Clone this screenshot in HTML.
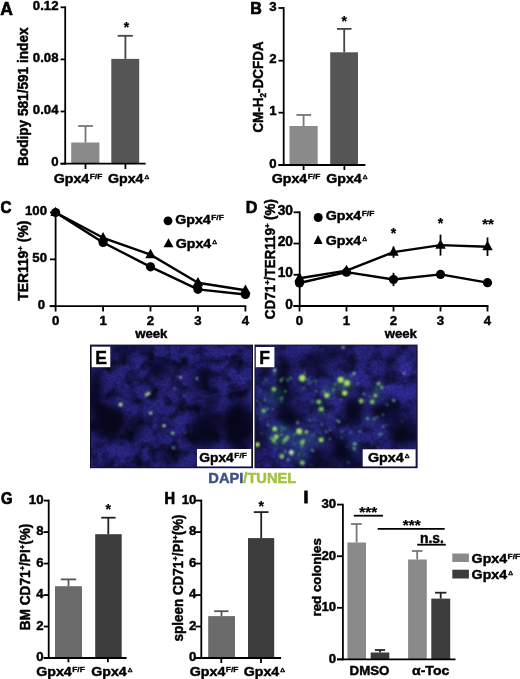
<!DOCTYPE html><html><head><meta charset="utf-8"><style>html,body{margin:0;padding:0;background:#fff;overflow:hidden;width:520px;height:679px;}svg{display:block;}text{stroke:#000;stroke-width:0.45px;stroke-linejoin:round;}</style></head><body>
<svg width="520" height="679" viewBox="0 0 520 679" font-family="'Liberation Sans', Arial, Helvetica, sans-serif">
<rect x="0.00" y="0.00" width="520.00" height="679.00" fill="#fff"/>
<text x="0.20" y="14.60" font-size="17.5" text-anchor="start" fill="#000" font-weight="bold" style="stroke-width:0.7px">A</text>
<rect x="71.20" y="142.50" width="28.20" height="21.20" fill="#8a8a8a"/>
<rect x="111.30" y="58.90" width="27.90" height="104.80" fill="#555"/>
<line x1="85.50" y1="142.50" x2="85.50" y2="126.00" stroke="#777" stroke-width="1.8"/>
<line x1="78.20" y1="126.00" x2="92.90" y2="126.00" stroke="#777" stroke-width="1.8"/>
<line x1="125.40" y1="58.90" x2="125.40" y2="35.80" stroke="#444" stroke-width="1.8"/>
<line x1="117.70" y1="35.80" x2="132.80" y2="35.80" stroke="#444" stroke-width="1.8"/>
<text x="126.50" y="32.48" font-size="14" text-anchor="middle" fill="#000" font-weight="bold" style="stroke-width:0.25px">*</text>
<line x1="65.20" y1="6.40" x2="65.20" y2="164.60" stroke="#000" stroke-width="1.8"/>
<line x1="60.60" y1="7.30" x2="65.20" y2="7.30" stroke="#000" stroke-width="1.8"/>
<text x="58.50" y="10.00" font-size="13.2" text-anchor="end" fill="#000" font-weight="bold">0.12</text>
<line x1="60.60" y1="59.40" x2="65.20" y2="59.40" stroke="#000" stroke-width="1.8"/>
<text x="58.50" y="62.10" font-size="13.2" text-anchor="end" fill="#000" font-weight="bold">0.08</text>
<line x1="60.60" y1="111.50" x2="65.20" y2="111.50" stroke="#000" stroke-width="1.8"/>
<text x="58.50" y="114.20" font-size="13.2" text-anchor="end" fill="#000" font-weight="bold">0.04</text>
<line x1="60.60" y1="163.70" x2="65.20" y2="163.70" stroke="#000" stroke-width="1.8"/>
<text x="58.50" y="166.40" font-size="13.2" text-anchor="end" fill="#000" font-weight="bold">0</text>
<line x1="60.60" y1="163.70" x2="145.60" y2="163.70" stroke="#000" stroke-width="1.8"/>
<line x1="85.50" y1="163.70" x2="85.50" y2="169.00" stroke="#000" stroke-width="1.8"/>
<line x1="125.40" y1="163.70" x2="125.40" y2="169.00" stroke="#000" stroke-width="1.8"/>
<text x="53.70" y="182.80" font-size="13.6" font-weight="bold" textLength="35.5" lengthAdjust="spacingAndGlyphs">Gpx4</text>
<text x="89.70" y="178.80" font-size="6.8" font-weight="bold" textLength="12.6" lengthAdjust="spacingAndGlyphs" style="stroke-width:0.3px">F/F</text>
<text x="108.00" y="182.80" font-size="13.6" font-weight="bold" textLength="35.5" lengthAdjust="spacingAndGlyphs">Gpx4</text>
<text x="144.60" y="178.80" font-size="5.2" font-weight="normal" textLength="4.7" lengthAdjust="spacingAndGlyphs" style="stroke-width:0.35px">&#916;</text>
<text x="28.20" y="166.00" font-size="14" text-anchor="start" fill="#000" font-weight="bold" transform="rotate(-90 28.20 166.00)" textLength="138.6" lengthAdjust="spacingAndGlyphs">Bodipy 581/591 index</text>
<text x="250.20" y="14.40" font-size="17.3" text-anchor="start" fill="#000" font-weight="bold" textLength="11.6" lengthAdjust="spacingAndGlyphs" style="stroke-width:0.7px">B</text>
<rect x="289.50" y="126.00" width="28.20" height="39.00" fill="#8a8a8a"/>
<rect x="330.20" y="52.30" width="27.80" height="112.70" fill="#555"/>
<line x1="303.60" y1="126.00" x2="303.60" y2="115.00" stroke="#777" stroke-width="1.8"/>
<line x1="296.40" y1="115.00" x2="311.10" y2="115.00" stroke="#777" stroke-width="1.8"/>
<line x1="344.20" y1="52.30" x2="344.20" y2="28.90" stroke="#444" stroke-width="1.8"/>
<line x1="337.00" y1="28.90" x2="351.50" y2="28.90" stroke="#444" stroke-width="1.8"/>
<text x="344.20" y="25.88" font-size="14" text-anchor="middle" fill="#000" font-weight="bold" style="stroke-width:0.25px">*</text>
<line x1="283.70" y1="7.10" x2="283.70" y2="165.90" stroke="#000" stroke-width="1.8"/>
<line x1="278.50" y1="8.00" x2="283.70" y2="8.00" stroke="#000" stroke-width="1.8"/>
<text x="276.50" y="10.70" font-size="13.2" text-anchor="end" fill="#000" font-weight="bold">3</text>
<line x1="278.50" y1="60.70" x2="283.70" y2="60.70" stroke="#000" stroke-width="1.8"/>
<text x="276.50" y="63.40" font-size="13.2" text-anchor="end" fill="#000" font-weight="bold">2</text>
<line x1="278.50" y1="112.70" x2="283.70" y2="112.70" stroke="#000" stroke-width="1.8"/>
<text x="276.50" y="115.40" font-size="13.2" text-anchor="end" fill="#000" font-weight="bold">1</text>
<line x1="278.50" y1="165.00" x2="283.70" y2="165.00" stroke="#000" stroke-width="1.8"/>
<text x="276.50" y="167.70" font-size="13.2" text-anchor="end" fill="#000" font-weight="bold">0</text>
<line x1="278.50" y1="165.00" x2="365.40" y2="165.00" stroke="#000" stroke-width="1.8"/>
<line x1="303.60" y1="165.00" x2="303.60" y2="170.00" stroke="#000" stroke-width="1.8"/>
<line x1="344.40" y1="165.00" x2="344.40" y2="170.00" stroke="#000" stroke-width="1.8"/>
<text x="271.70" y="182.80" font-size="13.6" font-weight="bold" textLength="35.5" lengthAdjust="spacingAndGlyphs">Gpx4</text>
<text x="307.70" y="178.80" font-size="6.8" font-weight="bold" textLength="12.6" lengthAdjust="spacingAndGlyphs" style="stroke-width:0.3px">F/F</text>
<text x="326.20" y="182.80" font-size="13.6" font-weight="bold" textLength="35.5" lengthAdjust="spacingAndGlyphs">Gpx4</text>
<text x="362.80" y="178.80" font-size="5.2" font-weight="normal" textLength="4.7" lengthAdjust="spacingAndGlyphs" style="stroke-width:0.35px">&#916;</text>
<text x="262.8" y="132.6" font-size="14" font-weight="bold" transform="rotate(-90 262.8 132.6)" textLength="91.2" lengthAdjust="spacingAndGlyphs">CM-H<tspan font-size="8.5" dy="3">2</tspan><tspan dy="-3">-DCFDA</tspan></text>
<text x="0.60" y="213.00" font-size="17.3" text-anchor="start" fill="#000" font-weight="bold" textLength="11.0" lengthAdjust="spacingAndGlyphs" style="stroke-width:0.7px">C</text>
<line x1="55.60" y1="211.60" x2="55.60" y2="307.10" stroke="#000" stroke-width="1.8"/>
<line x1="50.00" y1="212.50" x2="55.60" y2="212.50" stroke="#000" stroke-width="1.8"/>
<text x="47.00" y="215.20" font-size="13.2" text-anchor="end" fill="#000" font-weight="bold">100</text>
<line x1="50.00" y1="259.35" x2="55.60" y2="259.35" stroke="#000" stroke-width="1.8"/>
<text x="47.00" y="262.05" font-size="13.2" text-anchor="end" fill="#000" font-weight="bold">50</text>
<line x1="50.00" y1="306.20" x2="55.60" y2="306.20" stroke="#000" stroke-width="1.8"/>
<text x="45.20" y="308.90" font-size="13.2" text-anchor="end" fill="#000" font-weight="bold">0</text>
<line x1="49.60" y1="306.20" x2="246.30" y2="306.20" stroke="#000" stroke-width="1.8"/>
<line x1="55.60" y1="306.20" x2="55.60" y2="311.50" stroke="#000" stroke-width="1.8"/>
<text x="55.60" y="325.00" font-size="13.2" text-anchor="middle" fill="#000" font-weight="bold">0</text>
<line x1="103.05" y1="306.20" x2="103.05" y2="311.50" stroke="#000" stroke-width="1.8"/>
<text x="103.05" y="325.00" font-size="13.2" text-anchor="middle" fill="#000" font-weight="bold">1</text>
<line x1="150.50" y1="306.20" x2="150.50" y2="311.50" stroke="#000" stroke-width="1.8"/>
<text x="150.50" y="325.00" font-size="13.2" text-anchor="middle" fill="#000" font-weight="bold">2</text>
<line x1="197.95" y1="306.20" x2="197.95" y2="311.50" stroke="#000" stroke-width="1.8"/>
<text x="197.95" y="325.00" font-size="13.2" text-anchor="middle" fill="#000" font-weight="bold">3</text>
<line x1="245.40" y1="306.20" x2="245.40" y2="311.50" stroke="#000" stroke-width="1.8"/>
<text x="245.40" y="325.00" font-size="13.2" text-anchor="middle" fill="#000" font-weight="bold">4</text>
<text x="151.30" y="338.40" font-size="13.2" text-anchor="middle" fill="#000" font-weight="bold">week</text>
<text x="27.80" y="300.80" font-size="14" text-anchor="start" fill="#000" font-weight="bold" transform="rotate(-90 27.80 300.80)" textLength="80.2" lengthAdjust="spacingAndGlyphs">TER119<tspan font-size="8" dy="-5">+</tspan><tspan dy="5"> (%)</tspan></text>
<polyline points="55.60,212.50 103.05,237.80 150.50,254.66 197.95,282.77 245.40,290.27" fill="none" stroke="#000" stroke-width="2.4" stroke-linejoin="round"/>
<polyline points="55.60,212.50 103.05,242.48 150.50,266.85 197.95,289.33 245.40,294.49" fill="none" stroke="#000" stroke-width="2.4" stroke-linejoin="round"/>
<line x1="103.05" y1="238.74" x2="103.05" y2="246.23" stroke="#000" stroke-width="1.8"/>
<line x1="150.50" y1="264.03" x2="150.50" y2="269.66" stroke="#000" stroke-width="1.8"/>
<line x1="197.95" y1="287.46" x2="197.95" y2="291.21" stroke="#000" stroke-width="1.8"/>
<line x1="245.40" y1="292.61" x2="245.40" y2="296.36" stroke="#000" stroke-width="1.8"/>
<line x1="103.05" y1="234.99" x2="103.05" y2="240.61" stroke="#000" stroke-width="1.8"/>
<line x1="150.50" y1="252.79" x2="150.50" y2="256.54" stroke="#000" stroke-width="1.8"/>
<line x1="197.95" y1="279.96" x2="197.95" y2="285.59" stroke="#000" stroke-width="1.8"/>
<line x1="245.40" y1="288.40" x2="245.40" y2="292.14" stroke="#000" stroke-width="1.8"/>
<polygon points="55.60,206.64 60.85,216.09 50.35,216.09" fill="#000"/>
<polygon points="103.05,231.94 108.30,241.39 97.80,241.39" fill="#000"/>
<polygon points="150.50,248.81 155.75,258.26 145.25,258.26" fill="#000"/>
<polygon points="197.95,276.92 203.20,286.37 192.70,286.37" fill="#000"/>
<polygon points="245.40,284.41 250.65,293.86 240.15,293.86" fill="#000"/>
<circle cx="55.60" cy="212.50" r="4.6" fill="#000"/>
<circle cx="103.05" cy="242.48" r="4.6" fill="#000"/>
<circle cx="150.50" cy="266.85" r="4.6" fill="#000"/>
<circle cx="197.95" cy="289.33" r="4.6" fill="#000"/>
<circle cx="245.40" cy="294.49" r="4.6" fill="#000"/>
<circle cx="168.00" cy="220.80" r="4.4" fill="#000"/>
<text x="175.20" y="223.90" font-size="13.6" font-weight="bold" textLength="35.5" lengthAdjust="spacingAndGlyphs">Gpx4</text>
<text x="211.20" y="219.90" font-size="6.8" font-weight="bold" textLength="12.6" lengthAdjust="spacingAndGlyphs" style="stroke-width:0.3px">F/F</text>
<polygon points="168.5,238.3 173.5,247.2 163.5,247.2" fill="#000"/>
<text x="175.70" y="248.40" font-size="13.6" font-weight="bold" textLength="35.5" lengthAdjust="spacingAndGlyphs">Gpx4</text>
<text x="212.30" y="244.40" font-size="5.2" font-weight="normal" textLength="4.7" lengthAdjust="spacingAndGlyphs" style="stroke-width:0.35px">&#916;</text>
<text x="245.70" y="213.20" font-size="17.3" text-anchor="start" fill="#000" font-weight="bold" textLength="11.6" lengthAdjust="spacingAndGlyphs" style="stroke-width:0.7px">D</text>
<line x1="299.70" y1="211.40" x2="299.70" y2="306.90" stroke="#000" stroke-width="1.8"/>
<line x1="293.50" y1="212.30" x2="299.70" y2="212.30" stroke="#000" stroke-width="1.8"/>
<text x="293.00" y="215.00" font-size="13.8" text-anchor="end" fill="#000" font-weight="bold">30</text>
<line x1="293.50" y1="243.53" x2="299.70" y2="243.53" stroke="#000" stroke-width="1.8"/>
<text x="293.00" y="246.23" font-size="13.8" text-anchor="end" fill="#000" font-weight="bold">20</text>
<line x1="293.50" y1="274.77" x2="299.70" y2="274.77" stroke="#000" stroke-width="1.8"/>
<text x="293.00" y="277.47" font-size="13.8" text-anchor="end" fill="#000" font-weight="bold">10</text>
<line x1="293.50" y1="306.00" x2="299.70" y2="306.00" stroke="#000" stroke-width="1.8"/>
<text x="293.00" y="308.70" font-size="13.8" text-anchor="end" fill="#000" font-weight="bold">0</text>
<line x1="293.50" y1="306.00" x2="488.40" y2="306.00" stroke="#000" stroke-width="1.8"/>
<line x1="299.50" y1="306.00" x2="299.50" y2="311.50" stroke="#000" stroke-width="1.8"/>
<text x="299.50" y="325.00" font-size="13.2" text-anchor="middle" fill="#000" font-weight="bold">0</text>
<line x1="346.50" y1="306.00" x2="346.50" y2="311.50" stroke="#000" stroke-width="1.8"/>
<text x="346.50" y="325.00" font-size="13.2" text-anchor="middle" fill="#000" font-weight="bold">1</text>
<line x1="393.50" y1="306.00" x2="393.50" y2="311.50" stroke="#000" stroke-width="1.8"/>
<text x="393.50" y="325.00" font-size="13.2" text-anchor="middle" fill="#000" font-weight="bold">2</text>
<line x1="440.50" y1="306.00" x2="440.50" y2="311.50" stroke="#000" stroke-width="1.8"/>
<text x="440.50" y="325.00" font-size="13.2" text-anchor="middle" fill="#000" font-weight="bold">3</text>
<line x1="487.50" y1="306.00" x2="487.50" y2="311.50" stroke="#000" stroke-width="1.8"/>
<text x="487.50" y="325.00" font-size="13.2" text-anchor="middle" fill="#000" font-weight="bold">4</text>
<text x="400.80" y="338.00" font-size="13.2" text-anchor="middle" fill="#000" font-weight="bold">week</text>
<text x="274.8" y="319.2" font-size="14" font-weight="bold" transform="rotate(-90 274.8 319.2)" textLength="120.2" lengthAdjust="spacingAndGlyphs">CD71<tspan font-size="8" dy="-5">+</tspan><tspan dy="5">/TER119</tspan><tspan font-size="8" dy="-5">+</tspan><tspan dy="5"> (%)</tspan></text>
<polyline points="299.50,278.22 346.50,270.58 393.50,252.14 440.50,245.14 487.50,246.73" fill="none" stroke="#000" stroke-width="2.4" stroke-linejoin="round"/>
<polyline points="299.50,282.99 346.50,272.17 393.50,279.49 440.50,274.40 487.50,282.67" fill="none" stroke="#000" stroke-width="2.4" stroke-linejoin="round"/>
<line x1="346.50" y1="267.40" x2="346.50" y2="273.76" stroke="#000" stroke-width="1.8"/>
<line x1="393.50" y1="246.42" x2="393.50" y2="257.86" stroke="#000" stroke-width="1.8"/>
<line x1="440.50" y1="234.65" x2="440.50" y2="255.64" stroke="#000" stroke-width="1.8"/>
<line x1="487.50" y1="237.51" x2="487.50" y2="255.96" stroke="#000" stroke-width="1.8"/>
<line x1="346.50" y1="268.99" x2="346.50" y2="275.35" stroke="#000" stroke-width="1.8"/>
<line x1="393.50" y1="272.81" x2="393.50" y2="286.17" stroke="#000" stroke-width="1.8"/>
<polygon points="299.50,272.36 304.75,281.81 294.25,281.81" fill="#000"/>
<polygon points="346.50,264.73 351.75,274.18 341.25,274.18" fill="#000"/>
<polygon points="393.50,246.28 398.75,255.73 388.25,255.73" fill="#000"/>
<polygon points="440.50,239.28 445.75,248.74 435.25,248.74" fill="#000"/>
<polygon points="487.50,240.87 492.75,250.32 482.25,250.32" fill="#000"/>
<circle cx="299.50" cy="282.99" r="4.6" fill="#000"/>
<circle cx="346.50" cy="272.17" r="4.6" fill="#000"/>
<circle cx="393.50" cy="279.49" r="4.6" fill="#000"/>
<circle cx="440.50" cy="274.40" r="4.6" fill="#000"/>
<circle cx="487.50" cy="282.67" r="4.6" fill="#000"/>
<text x="393.50" y="238.08" font-size="14" text-anchor="middle" fill="#000" font-weight="bold" style="stroke-width:0.25px">*</text>
<text x="440.50" y="227.58" font-size="14" text-anchor="middle" fill="#000" font-weight="bold" style="stroke-width:0.25px">*</text>
<text x="482.30" y="229.38" font-size="14" text-anchor="start" fill="#000" font-weight="bold" textLength="11.6" lengthAdjust="spacingAndGlyphs" style="stroke-width:0.25px">**</text>
<circle cx="318.20" cy="217.50" r="4.5" fill="#000"/>
<text x="325.70" y="219.80" font-size="13.6" font-weight="bold" textLength="35.5" lengthAdjust="spacingAndGlyphs">Gpx4</text>
<text x="361.70" y="215.80" font-size="6.8" font-weight="bold" textLength="12.6" lengthAdjust="spacingAndGlyphs" style="stroke-width:0.3px">F/F</text>
<polygon points="318.1,235 322.6,243.9 313.6,243.9" fill="#000"/>
<text x="325.70" y="244.80" font-size="13.6" font-weight="bold" textLength="35.5" lengthAdjust="spacingAndGlyphs">Gpx4</text>
<text x="362.30" y="240.80" font-size="5.2" font-weight="normal" textLength="4.7" lengthAdjust="spacingAndGlyphs" style="stroke-width:0.35px">&#916;</text>
<defs>
<filter id="blur6" x="-50%" y="-50%" width="200%" height="200%" color-interpolation-filters="sRGB"><feGaussianBlur stdDeviation="6"/></filter>
<filter id="blur3" x="-50%" y="-50%" width="200%" height="200%"><feGaussianBlur stdDeviation="3"/></filter>
<filter id="blur5" x="-50%" y="-50%" width="200%" height="200%" color-interpolation-filters="sRGB"><feGaussianBlur stdDeviation="4.5"/></filter>
<filter id="blur1" x="-100%" y="-100%" width="300%" height="300%"><feGaussianBlur stdDeviation="0.8"/></filter>
<filter id="noise" x="0" y="0" width="100%" height="100%" color-interpolation-filters="sRGB">
<feTurbulence type="fractalNoise" baseFrequency="0.07" numOctaves="4" seed="11" result="n"/>
<feColorMatrix type="matrix" values="0 0 0 0 0.03  0 0 0 0 0.03  0 0 0 0 0.09  3.0 0 0 0 -1.25" in="n"/>
</filter>
<filter id="grain" x="0" y="0" width="100%" height="100%" color-interpolation-filters="sRGB">
<feTurbulence type="fractalNoise" baseFrequency="0.45" numOctaves="1" seed="5" result="n"/>
<feColorMatrix type="matrix" values="0 0 0 0 0.04  0 0 0 0 0.04  0 0 0 0 0.16  2.0 0 0 0 -0.7" in="n"/>
</filter>
<clipPath id="clipE"><rect x="91" y="345.6" width="161" height="121.6"/></clipPath>
<clipPath id="clipF"><rect x="255.5" y="345.6" width="161" height="121.6"/></clipPath>
</defs>
<rect x="90.00" y="344.60" width="163.00" height="123.60" fill="#0c0b1e"/>
<g clip-path="url(#clipE)">
<rect x="90.00" y="344.60" width="163.00" height="123.60" fill="#29267f"/>
<g filter="url(#blur3)">
<ellipse cx="139" cy="364" rx="10" ry="9" fill="#332e96" opacity="0.7"/>
<ellipse cx="234" cy="381" rx="14" ry="12" fill="#332e96" opacity="0.6"/>
<ellipse cx="215" cy="358" rx="15" ry="10" fill="#332e96" opacity="0.5"/>
<ellipse cx="115" cy="456" rx="15" ry="10" fill="#332e96" opacity="0.5"/>
<ellipse cx="150" cy="448" rx="12" ry="10" fill="#332e96" opacity="0.4"/>
<ellipse cx="220" cy="426" rx="8" ry="8" fill="#332e96" opacity="0.5"/>
<ellipse cx="180" cy="418" rx="10" ry="10" fill="#332e96" opacity="0.4"/>
</g><g filter="url(#blur5)">
<ellipse cx="159" cy="369" rx="8.7" ry="8.7" fill="#07061a" opacity="0.88"/>
<ellipse cx="96" cy="392" rx="6.5" ry="25.2" fill="#07061a" opacity="0.88"/>
<ellipse cx="108" cy="422" rx="17.5" ry="17.5" fill="#07061a" opacity="0.94"/>
<ellipse cx="134" cy="430" rx="6.5" ry="10.9" fill="#07061a" opacity="0.77"/>
<ellipse cx="202" cy="380" rx="9.8" ry="14.2" fill="#07061a" opacity="0.66"/>
<ellipse cx="205" cy="430" rx="14.2" ry="18.6" fill="#07061a" opacity="0.88"/>
<ellipse cx="238" cy="425" rx="16.4" ry="23.0" fill="#07061a" opacity="0.94"/>
<ellipse cx="168" cy="456" rx="9.8" ry="9.8" fill="#07061a" opacity="0.66"/>
<ellipse cx="210" cy="405" rx="7.6" ry="7.6" fill="#07061a" opacity="0.66"/>
<ellipse cx="125" cy="350" rx="17.5" ry="6.5" fill="#07061a" opacity="0.44"/>
</g>
<rect x="90" y="344.6" width="163" height="123.59999999999997" filter="url(#noise)" opacity="0.85"/>
<rect x="90" y="344.6" width="163" height="123.59999999999997" filter="url(#grain)" opacity="0.4"/>
<g filter="url(#blur1)">
<circle cx="120.6" cy="404.6" r="1.9" fill="#d0f080"/>
<circle cx="146.4" cy="394.7" r="1.6" fill="#a8e060"/>
<circle cx="148.8" cy="393.3" r="1.6" fill="#b8f070"/>
<circle cx="180.5" cy="377.3" r="1.3" fill="#90e0c0"/>
<circle cx="197" cy="378.4" r="1.2" fill="#a0b0d0"/>
<circle cx="174.2" cy="388.8" r="1.1" fill="#8090b0"/>
<circle cx="184.4" cy="395.5" r="1.0" fill="#806090"/>
<circle cx="150.7" cy="413.1" r="1.5" fill="#c0f0a0"/>
<circle cx="164.1" cy="425.7" r="1.6" fill="#b0f0a0"/>
<circle cx="172.6" cy="433" r="1.6" fill="#a0e8a0"/>
<circle cx="173.5" cy="447.7" r="1.3" fill="#70c0c0"/>
<circle cx="185.4" cy="432.4" r="1.0" fill="#806080"/>
</g>
</g>
<rect x="254.50" y="344.60" width="163.10" height="123.60" fill="#0c0b1e"/>
<g clip-path="url(#clipF)">
<rect x="254.50" y="344.60" width="163.10" height="123.60" fill="#29267f"/>
<g filter="url(#blur3)">
<ellipse cx="331" cy="402" rx="16" ry="16" fill="#332e96" opacity="0.55"/>
<ellipse cx="382" cy="390" rx="11" ry="10" fill="#332e96" opacity="0.6"/>
<ellipse cx="404" cy="373" rx="11" ry="12" fill="#332e96" opacity="0.6"/>
<ellipse cx="307" cy="352" rx="9" ry="9" fill="#332e96" opacity="0.5"/>
<ellipse cx="375" cy="436" rx="10" ry="10" fill="#332e96" opacity="0.5"/>
<ellipse cx="402" cy="385" rx="14" ry="28" fill="#3531a8" opacity="0.7"/>
<ellipse cx="330" cy="350" rx="30" ry="6" fill="#3531a8" opacity="0.5"/>
<ellipse cx="360" cy="378" rx="10" ry="8" fill="#3531a8" opacity="0.5"/>
</g><g filter="url(#blur5)">
<ellipse cx="283" cy="386" rx="6.5" ry="29.6" fill="#07061a" opacity="0.99"/>
<ellipse cx="290" cy="416" rx="10.9" ry="9.8" fill="#07061a" opacity="0.88"/>
<ellipse cx="316" cy="360" rx="12.0" ry="12.0" fill="#07061a" opacity="0.61"/>
<ellipse cx="353" cy="411" rx="9.8" ry="13.1" fill="#07061a" opacity="0.94"/>
<ellipse cx="341" cy="451" rx="9.8" ry="14.2" fill="#07061a" opacity="0.94"/>
<ellipse cx="387" cy="412" rx="14.2" ry="8.7" fill="#07061a" opacity="0.83"/>
<ellipse cx="403" cy="432" rx="14.2" ry="14.2" fill="#07061a" opacity="0.83"/>
<ellipse cx="258" cy="437" rx="6.5" ry="16.4" fill="#07061a" opacity="0.77"/>
<ellipse cx="318" cy="456" rx="9.8" ry="9.8" fill="#07061a" opacity="0.77"/>
<ellipse cx="336" cy="352" rx="9.8" ry="8.7" fill="#07061a" opacity="0.66"/>
<ellipse cx="365" cy="462" rx="14.2" ry="7.6" fill="#07061a" opacity="0.55"/>
</g>
<rect x="254.5" y="344.6" width="163.10000000000002" height="123.59999999999997" filter="url(#noise)" opacity="0.68"/>
<rect x="254.5" y="344.6" width="163.10000000000002" height="123.59999999999997" filter="url(#grain)" opacity="0.4"/>
<g filter="url(#blur3)">
<circle cx="275" cy="395" r="10" fill="#2f7a8c" opacity="0.27"/>
<circle cx="330" cy="390" r="9" fill="#2f7a8c" opacity="0.24"/>
<circle cx="280" cy="435" r="12" fill="#2f7a8c" opacity="0.3"/>
<circle cx="300" cy="440" r="10" fill="#2f7a8c" opacity="0.27"/>
<circle cx="315" cy="440" r="8" fill="#2f7a8c" opacity="0.24"/>
<circle cx="345" cy="385" r="9" fill="#4a9a70" opacity="0.27"/>
<circle cx="375" cy="395" r="8" fill="#2f7a8c" opacity="0.21"/>
<circle cx="300" cy="455" r="8" fill="#2f7a8c" opacity="0.21"/>
<circle cx="320" cy="410" r="6" fill="#2f7a8c" opacity="0.21"/>
<circle cx="370" cy="420" r="6" fill="#2f7a8c" opacity="0.18"/>
<circle cx="355" cy="445" r="6" fill="#2f7a8c" opacity="0.21"/>
<circle cx="263" cy="412" r="6" fill="#2f7a8c" opacity="0.21"/>
</g>
<g filter="url(#blur1)">
<circle cx="302.3" cy="378.1" r="3.23" fill="#a8e858"/>
<circle cx="274.7" cy="370.2" r="1.53" fill="#a0e0c0"/>
<circle cx="273.9" cy="389.2" r="2.21" fill="#80c858"/>
<circle cx="326.8" cy="395.2" r="2.55" fill="#a8e858"/>
<circle cx="318.9" cy="401.8" r="2.38" fill="#80c858"/>
<circle cx="340.7" cy="379.7" r="3.06" fill="#a8e858"/>
<circle cx="347" cy="382.9" r="2.8899999999999997" fill="#a8e858"/>
<circle cx="344.7" cy="393.1" r="2.72" fill="#a8e858"/>
<circle cx="354.1" cy="373.4" r="1.275" fill="#c8f0c0"/>
<circle cx="361.2" cy="401" r="2.38" fill="#80c858"/>
<circle cx="372.3" cy="401.8" r="2.38" fill="#80c858"/>
<circle cx="375.4" cy="395.5" r="1.9549999999999998" fill="#80c858"/>
<circle cx="378.6" cy="383.6" r="1.9549999999999998" fill="#80c858"/>
<circle cx="381.7" cy="387.3" r="1.615" fill="#80c858"/>
<circle cx="403.8" cy="373.4" r="1.02" fill="#c0c0e0"/>
<circle cx="343.1" cy="347.4" r="1.105" fill="#e0f0e0"/>
<circle cx="393.6" cy="400.2" r="1.53" fill="#70b080"/>
<circle cx="263.7" cy="410.7" r="2.04" fill="#80c858"/>
<circle cx="274.7" cy="428.9" r="2.38" fill="#a8e858"/>
<circle cx="276.3" cy="436.8" r="2.38" fill="#a8e858"/>
<circle cx="273.9" cy="440.7" r="1.9549999999999998" fill="#80c858"/>
<circle cx="285" cy="439.9" r="1.9549999999999998" fill="#80c858"/>
<circle cx="287.3" cy="437.3" r="1.7" fill="#80c858"/>
<circle cx="257.4" cy="444.6" r="2.38" fill="#a8e858"/>
<circle cx="299.2" cy="431.2" r="3.06" fill="#a8e858"/>
<circle cx="306.3" cy="432" r="1.7" fill="#a8e858"/>
<circle cx="302.3" cy="442.3" r="2.38" fill="#80c858"/>
<circle cx="291.3" cy="452.5" r="2.38" fill="#c0f0a0"/>
<circle cx="281.8" cy="456.5" r="2.38" fill="#80c858"/>
<circle cx="302.3" cy="462.8" r="2.38" fill="#80c858"/>
<circle cx="321.2" cy="439.9" r="2.38" fill="#a8e858"/>
<circle cx="321.2" cy="409.2" r="2.38" fill="#80c858"/>
<circle cx="297.6" cy="422.6" r="1.105" fill="#c8f0c0"/>
<circle cx="288.1" cy="459.6" r="1.275" fill="#70c0c0"/>
<circle cx="355" cy="443.9" r="1.36" fill="#80d0d0"/>
<circle cx="367.5" cy="418.6" r="1.275" fill="#70c0b0"/>
<circle cx="383.3" cy="426.5" r="1.02" fill="#80c0c0"/>
<circle cx="339" cy="421.8" r="1.275" fill="#70c0b0"/>
<circle cx="354.1" cy="448.6" r="1.36" fill="#80c080"/>
<circle cx="310" cy="420" r="1.02" fill="#60b0a0"/>
<circle cx="330" cy="430" r="0.935" fill="#60b0a0"/>
<circle cx="268" cy="425" r="1.02" fill="#60b0a0"/>
<circle cx="265" cy="400" r="1.105" fill="#70c0a0"/>
<circle cx="282" cy="398" r="1.105" fill="#70c0a0"/>
<circle cx="312" cy="450" r="1.105" fill="#70c090"/>
<circle cx="317.3" cy="410.1" r="0.69" fill="#3a8aa0"/>
<circle cx="285.3" cy="391.3" r="1.08" fill="#60b870"/>
<circle cx="304.0" cy="387.8" r="1.07" fill="#60b870"/>
<circle cx="272.4" cy="409.1" r="1.1" fill="#4aa0a0"/>
<circle cx="376.8" cy="390.0" r="0.77" fill="#60b870"/>
<circle cx="402.0" cy="421.2" r="0.65" fill="#60b870"/>
<circle cx="260.3" cy="418.8" r="0.71" fill="#5ab090"/>
<circle cx="321.6" cy="424.2" r="0.94" fill="#60b870"/>
<circle cx="381.2" cy="387.2" r="0.85" fill="#3a8aa0"/>
<circle cx="370.2" cy="397.0" r="0.76" fill="#60b870"/>
<circle cx="310.8" cy="382.3" r="0.91" fill="#60b870"/>
<circle cx="346.9" cy="446.3" r="0.64" fill="#5ab090"/>
<circle cx="315.6" cy="391.5" r="0.81" fill="#5ab090"/>
<circle cx="374.2" cy="419.0" r="1.14" fill="#5ab090"/>
<circle cx="281.5" cy="379.4" r="1.06" fill="#60b870"/>
<circle cx="268.0" cy="408.9" r="0.77" fill="#5ab090"/>
<circle cx="315.4" cy="381.3" r="1.04" fill="#60b870"/>
<circle cx="287.4" cy="438.8" r="1.07" fill="#5ab090"/>
<circle cx="311.7" cy="425.6" r="0.78" fill="#4aa0a0"/>
<circle cx="327.9" cy="393.9" r="0.83" fill="#60b870"/>
<circle cx="344.4" cy="386.0" r="0.87" fill="#4aa0a0"/>
<circle cx="281.8" cy="430.6" r="0.94" fill="#60b870"/>
<circle cx="299.4" cy="454.0" r="0.67" fill="#5ab090"/>
<circle cx="307.1" cy="379.7" r="0.96" fill="#5ab090"/>
<circle cx="314.2" cy="425.4" r="0.67" fill="#4aa0a0"/>
<circle cx="312.9" cy="451.2" r="0.89" fill="#5ab090"/>
<circle cx="312.3" cy="401.5" r="0.85" fill="#5ab090"/>
<circle cx="316.3" cy="391.2" r="0.9" fill="#5ab090"/>
<circle cx="308.7" cy="379.4" r="0.72" fill="#70c070"/>
<circle cx="315.9" cy="401.1" r="0.63" fill="#60b870"/>
<circle cx="312.7" cy="435.3" r="0.9" fill="#4aa0a0"/>
<circle cx="281.5" cy="401.3" r="0.78" fill="#60b870"/>
<circle cx="294.0" cy="444.1" r="0.92" fill="#3a8aa0"/>
<circle cx="360.1" cy="431.4" r="1.15" fill="#60b870"/>
<circle cx="311.4" cy="464.6" r="0.63" fill="#5ab090"/>
<circle cx="281.5" cy="427.1" r="1.12" fill="#4aa0a0"/>
<circle cx="377.3" cy="417.2" r="1.16" fill="#3a8aa0"/>
<circle cx="323.8" cy="392.7" r="0.61" fill="#5ab090"/>
<circle cx="387.2" cy="404.7" r="1.13" fill="#3a8aa0"/>
<circle cx="341.9" cy="431.5" r="1.0" fill="#5ab090"/>
<circle cx="284.8" cy="428.7" r="1.15" fill="#3a8aa0"/>
<circle cx="292.3" cy="455.3" r="0.67" fill="#70c070"/>
<circle cx="329.1" cy="416.8" r="0.62" fill="#5ab090"/>
<circle cx="275.2" cy="380.3" r="0.78" fill="#4aa0a0"/>
<circle cx="281.8" cy="435.0" r="0.87" fill="#70c070"/>
<circle cx="323.8" cy="391.3" r="1.06" fill="#5ab090"/>
<circle cx="303.7" cy="440.2" r="1.08" fill="#70c070"/>
<circle cx="270.4" cy="437.3" r="0.64" fill="#3a8aa0"/>
<circle cx="308.5" cy="384.0" r="0.85" fill="#3a8aa0"/>
<circle cx="330.1" cy="439.1" r="1.02" fill="#5ab090"/>
<circle cx="271.8" cy="438.3" r="1.18" fill="#70c070"/>
<circle cx="301.8" cy="377.2" r="0.67" fill="#60b870"/>
<circle cx="259.8" cy="391.1" r="0.92" fill="#3a8aa0"/>
<circle cx="321.5" cy="440.5" r="0.74" fill="#60b870"/>
<circle cx="357.6" cy="384.0" r="0.97" fill="#4aa0a0"/>
<circle cx="261.0" cy="433.2" r="0.78" fill="#70c070"/>
<circle cx="323.8" cy="414.3" r="0.84" fill="#3a8aa0"/>
<circle cx="376.1" cy="387.5" r="0.68" fill="#60b870"/>
<circle cx="263.4" cy="382.6" r="0.71" fill="#70c070"/>
<circle cx="285.2" cy="451.5" r="1.13" fill="#70c070"/>
<circle cx="256.7" cy="400.8" r="0.8" fill="#5ab090"/>
<circle cx="276.5" cy="444.0" r="0.96" fill="#4aa0a0"/>
<circle cx="337.1" cy="420.3" r="1.08" fill="#60b870"/>
<circle cx="280.5" cy="398.9" r="1.0" fill="#3a8aa0"/>
<circle cx="275.5" cy="369.0" r="0.7" fill="#4aa0a0"/>
<circle cx="283.3" cy="443.2" r="1.07" fill="#70c070"/>
<circle cx="348.3" cy="462.3" r="1.13" fill="#3a8aa0"/>
<circle cx="333.2" cy="390.5" r="0.82" fill="#60b870"/>
<circle cx="379.1" cy="435.0" r="1.14" fill="#3a8aa0"/>
<circle cx="276.2" cy="437.2" r="0.77" fill="#60b870"/>
<circle cx="294.2" cy="434.8" r="0.88" fill="#70c070"/>
<circle cx="314.6" cy="420.0" r="0.97" fill="#3a8aa0"/>
<circle cx="335.1" cy="384.4" r="0.96" fill="#60b870"/>
<circle cx="387.8" cy="387.8" r="0.73" fill="#3a8aa0"/>
<circle cx="302.2" cy="446.3" r="1.15" fill="#5ab090"/>
<circle cx="267.3" cy="408.5" r="0.84" fill="#5ab090"/>
<circle cx="260.2" cy="402.9" r="0.76" fill="#70c070"/>
<circle cx="321.4" cy="438.3" r="0.62" fill="#5ab090"/>
<circle cx="286.2" cy="441.1" r="0.97" fill="#60b870"/>
<circle cx="350.7" cy="432.6" r="1.17" fill="#3a8aa0"/>
<circle cx="382.8" cy="414.9" r="1.03" fill="#4aa0a0"/>
<circle cx="326.2" cy="431.8" r="1.11" fill="#5ab090"/>
<circle cx="281.3" cy="454.6" r="1.12" fill="#5ab090"/>
<circle cx="363.9" cy="394.1" r="1.12" fill="#60b870"/>
<circle cx="281.5" cy="440.5" r="0.77" fill="#4aa0a0"/>
<circle cx="377.7" cy="447.4" r="0.65" fill="#5ab090"/>
<circle cx="283.7" cy="377.9" r="0.74" fill="#5ab090"/>
<circle cx="287.8" cy="379.9" r="1.13" fill="#5ab090"/>
<circle cx="304.1" cy="454.7" r="0.8" fill="#3a8aa0"/>
<circle cx="351.0" cy="375.8" r="0.88" fill="#4aa0a0"/>
<circle cx="275.6" cy="448.9" r="0.96" fill="#3a8aa0"/>
<circle cx="304.7" cy="373.0" r="1.11" fill="#70c070"/>
<circle cx="341.7" cy="437.4" r="0.98" fill="#3a8aa0"/>
<circle cx="281.3" cy="434.9" r="1.14" fill="#5ab090"/>
<circle cx="266.4" cy="379.6" r="0.79" fill="#70c070"/>
<circle cx="298.4" cy="454.4" r="0.71" fill="#4aa0a0"/>
<circle cx="290.7" cy="378.1" r="1.03" fill="#70c070"/>
<circle cx="303.1" cy="380.9" r="1.15" fill="#70c070"/>
<circle cx="381.1" cy="433.9" r="1.1" fill="#70c070"/>
<circle cx="281.0" cy="380.7" r="1.17" fill="#70c070"/>
<circle cx="386.3" cy="424.8" r="0.73" fill="#5ab090"/>
<circle cx="333.5" cy="389.5" r="1.11" fill="#60b870"/>
<circle cx="353.1" cy="443.7" r="0.9" fill="#3a8aa0"/>
<circle cx="274.5" cy="374.1" r="0.94" fill="#60b870"/>
<circle cx="378.4" cy="382.9" r="0.79" fill="#3a8aa0"/>
<circle cx="340.7" cy="399.9" r="0.8" fill="#60b870"/>
<circle cx="319.6" cy="432.3" r="0.79" fill="#3a8aa0"/>
</g>
</g>
<rect x="91.70" y="346.70" width="18.60" height="20.50" fill="#fff"/>
<text x="95.20" y="363.80" font-size="17.5" text-anchor="start" fill="#000" font-weight="bold">E</text>
<rect x="255.80" y="347.00" width="18.60" height="20.20" fill="#fff"/>
<text x="259.30" y="363.80" font-size="17.5" text-anchor="start" fill="#000" font-weight="bold">F</text>
<rect x="197.00" y="449.00" width="54.20" height="17.40" fill="#fff"/>
<text x="199.20" y="461.80" font-size="13.6" font-weight="bold" textLength="34.6" lengthAdjust="spacingAndGlyphs">Gpx4</text>
<text x="234.30" y="457.80" font-size="6.8" font-weight="bold" textLength="12.6" lengthAdjust="spacingAndGlyphs" style="stroke-width:0.3px">F/F</text>
<rect x="362.70" y="449.30" width="52.90" height="17.10" fill="#fff"/>
<text x="367.90" y="462.30" font-size="13.6" font-weight="bold" textLength="35.8" lengthAdjust="spacingAndGlyphs">Gpx4</text>
<text x="404.80" y="458.30" font-size="5.2" font-weight="normal" textLength="4.7" lengthAdjust="spacingAndGlyphs" style="stroke-width:0.35px">&#916;</text>
<text x="208.3" y="483" font-size="14" font-weight="bold" textLength="88" lengthAdjust="spacingAndGlyphs"><tspan fill="#3d5285" stroke="#3d5285">DAPI</tspan><tspan fill="#a3c23e" stroke="#a3c23e">/TUNEL</tspan></text>
<text x="1.10" y="503.80" font-size="15.8" text-anchor="start" fill="#000" font-weight="bold" textLength="11.6" lengthAdjust="spacingAndGlyphs" style="stroke-width:0.7px">G</text>
<rect x="55.00" y="586.20" width="27.00" height="71.80" fill="#6b6b6b"/>
<rect x="95.20" y="534.20" width="26.50" height="123.80" fill="#3c3c3c"/>
<line x1="68.50" y1="586.20" x2="68.50" y2="579.40" stroke="#555" stroke-width="1.8"/>
<line x1="60.80" y1="579.40" x2="76.20" y2="579.40" stroke="#555" stroke-width="1.8"/>
<line x1="108.30" y1="534.20" x2="108.30" y2="517.70" stroke="#222" stroke-width="1.8"/>
<line x1="101.20" y1="517.70" x2="115.60" y2="517.70" stroke="#222" stroke-width="1.8"/>
<text x="108.30" y="514.38" font-size="14" text-anchor="middle" fill="#000" font-weight="bold" style="stroke-width:0.25px">*</text>
<line x1="48.70" y1="499.70" x2="48.70" y2="658.90" stroke="#000" stroke-width="1.8"/>
<line x1="43.70" y1="500.60" x2="48.70" y2="500.60" stroke="#000" stroke-width="1.8"/>
<text x="43.50" y="503.80" font-size="13.2" text-anchor="end" fill="#000" font-weight="bold">10</text>
<line x1="43.70" y1="532.08" x2="48.70" y2="532.08" stroke="#000" stroke-width="1.8"/>
<text x="43.50" y="535.28" font-size="13.2" text-anchor="end" fill="#000" font-weight="bold">8</text>
<line x1="43.70" y1="563.56" x2="48.70" y2="563.56" stroke="#000" stroke-width="1.8"/>
<text x="43.50" y="566.76" font-size="13.2" text-anchor="end" fill="#000" font-weight="bold">6</text>
<line x1="43.70" y1="595.04" x2="48.70" y2="595.04" stroke="#000" stroke-width="1.8"/>
<text x="43.50" y="598.24" font-size="13.2" text-anchor="end" fill="#000" font-weight="bold">4</text>
<line x1="43.70" y1="626.52" x2="48.70" y2="626.52" stroke="#000" stroke-width="1.8"/>
<text x="43.50" y="629.72" font-size="13.2" text-anchor="end" fill="#000" font-weight="bold">2</text>
<line x1="43.70" y1="658.00" x2="48.70" y2="658.00" stroke="#000" stroke-width="1.8"/>
<text x="43.50" y="661.20" font-size="13.2" text-anchor="end" fill="#000" font-weight="bold">0</text>
<line x1="43.70" y1="658.00" x2="126.60" y2="658.00" stroke="#000" stroke-width="1.8"/>
<line x1="68.40" y1="658.00" x2="68.40" y2="662.30" stroke="#000" stroke-width="1.8"/>
<line x1="107.90" y1="658.00" x2="107.90" y2="662.30" stroke="#000" stroke-width="1.8"/>
<text x="36.20" y="675.90" font-size="13.6" font-weight="bold" textLength="35.5" lengthAdjust="spacingAndGlyphs">Gpx4</text>
<text x="72.20" y="671.90" font-size="6.8" font-weight="bold" textLength="12.6" lengthAdjust="spacingAndGlyphs" style="stroke-width:0.3px">F/F</text>
<text x="91.20" y="675.90" font-size="13.6" font-weight="bold" textLength="35.5" lengthAdjust="spacingAndGlyphs">Gpx4</text>
<text x="127.80" y="671.90" font-size="5.2" font-weight="normal" textLength="4.7" lengthAdjust="spacingAndGlyphs" style="stroke-width:0.35px">&#916;</text>
<text x="30" y="630.2" font-size="14" font-weight="bold" transform="rotate(-90 30 630.2)" textLength="106.6" lengthAdjust="spacingAndGlyphs">BM CD71<tspan font-size="8" dy="-5">+</tspan><tspan dy="5">/PI</tspan><tspan font-size="8" dy="-5">+</tspan><tspan dy="5">(%)</tspan></text>
<text x="164.50" y="503.50" font-size="15.8" text-anchor="start" fill="#000" font-weight="bold" textLength="10.6" lengthAdjust="spacingAndGlyphs" style="stroke-width:0.7px">H</text>
<rect x="208.20" y="616.10" width="26.80" height="41.90" fill="#6b6b6b"/>
<rect x="248.00" y="538.10" width="26.20" height="119.90" fill="#3c3c3c"/>
<line x1="221.50" y1="616.10" x2="221.50" y2="611.20" stroke="#555" stroke-width="1.8"/>
<line x1="214.20" y1="611.20" x2="228.50" y2="611.20" stroke="#555" stroke-width="1.8"/>
<line x1="261.20" y1="538.10" x2="261.20" y2="512.10" stroke="#222" stroke-width="1.8"/>
<line x1="253.80" y1="512.10" x2="268.50" y2="512.10" stroke="#222" stroke-width="1.8"/>
<text x="261.20" y="511.28" font-size="14" text-anchor="middle" fill="#000" font-weight="bold" style="stroke-width:0.25px">*</text>
<line x1="201.30" y1="499.70" x2="201.30" y2="658.90" stroke="#000" stroke-width="1.8"/>
<line x1="195.30" y1="500.60" x2="201.30" y2="500.60" stroke="#000" stroke-width="1.8"/>
<text x="196.30" y="503.80" font-size="13.2" text-anchor="end" fill="#000" font-weight="bold">10</text>
<line x1="195.30" y1="532.08" x2="201.30" y2="532.08" stroke="#000" stroke-width="1.8"/>
<text x="196.30" y="535.28" font-size="13.2" text-anchor="end" fill="#000" font-weight="bold">8</text>
<line x1="195.30" y1="563.56" x2="201.30" y2="563.56" stroke="#000" stroke-width="1.8"/>
<text x="196.30" y="566.76" font-size="13.2" text-anchor="end" fill="#000" font-weight="bold">6</text>
<line x1="195.30" y1="595.04" x2="201.30" y2="595.04" stroke="#000" stroke-width="1.8"/>
<text x="196.30" y="598.24" font-size="13.2" text-anchor="end" fill="#000" font-weight="bold">4</text>
<line x1="195.30" y1="626.52" x2="201.30" y2="626.52" stroke="#000" stroke-width="1.8"/>
<text x="196.30" y="629.72" font-size="13.2" text-anchor="end" fill="#000" font-weight="bold">2</text>
<line x1="195.30" y1="658.00" x2="201.30" y2="658.00" stroke="#000" stroke-width="1.8"/>
<text x="196.30" y="661.20" font-size="13.2" text-anchor="end" fill="#000" font-weight="bold">0</text>
<line x1="195.30" y1="658.00" x2="281.10" y2="658.00" stroke="#000" stroke-width="1.8"/>
<line x1="221.30" y1="658.00" x2="221.30" y2="663.00" stroke="#000" stroke-width="1.8"/>
<line x1="261.00" y1="658.00" x2="261.00" y2="663.00" stroke="#000" stroke-width="1.8"/>
<text x="189.80" y="675.90" font-size="13.6" font-weight="bold" textLength="35.5" lengthAdjust="spacingAndGlyphs">Gpx4</text>
<text x="225.80" y="671.90" font-size="6.8" font-weight="bold" textLength="12.6" lengthAdjust="spacingAndGlyphs" style="stroke-width:0.3px">F/F</text>
<text x="243.70" y="675.90" font-size="13.6" font-weight="bold" textLength="35.5" lengthAdjust="spacingAndGlyphs">Gpx4</text>
<text x="280.30" y="671.90" font-size="5.2" font-weight="normal" textLength="4.7" lengthAdjust="spacingAndGlyphs" style="stroke-width:0.35px">&#916;</text>
<text x="183.3" y="641.4" font-size="14" font-weight="bold" transform="rotate(-90 183.3 641.4)" textLength="127" lengthAdjust="spacingAndGlyphs">spleen CD71<tspan font-size="8" dy="-5">+</tspan><tspan dy="5">/PI</tspan><tspan font-size="8" dy="-5">+</tspan><tspan dy="5">(%)</tspan></text>
<text x="303.80" y="503.20" font-size="16" text-anchor="start" fill="#000" font-weight="bold" style="stroke-width:1.2px">I</text>
<rect x="347.40" y="542.50" width="18.60" height="116.90" fill="#8a8a8a"/>
<rect x="370.70" y="652.50" width="18.60" height="6.90" fill="#3c3c3c"/>
<rect x="408.10" y="559.50" width="18.70" height="99.90" fill="#8a8a8a"/>
<rect x="431.30" y="598.60" width="18.90" height="60.80" fill="#3c3c3c"/>
<line x1="356.60" y1="542.50" x2="356.60" y2="524.00" stroke="#777" stroke-width="1.8"/>
<line x1="351.00" y1="524.00" x2="361.80" y2="524.00" stroke="#777" stroke-width="1.8"/>
<line x1="380.10" y1="652.50" x2="380.10" y2="650.00" stroke="#222" stroke-width="1.8"/>
<line x1="374.90" y1="650.00" x2="385.10" y2="650.00" stroke="#222" stroke-width="1.8"/>
<line x1="417.20" y1="559.50" x2="417.20" y2="551.00" stroke="#777" stroke-width="1.8"/>
<line x1="411.90" y1="551.00" x2="422.50" y2="551.00" stroke="#777" stroke-width="1.8"/>
<line x1="440.70" y1="598.60" x2="440.70" y2="592.70" stroke="#222" stroke-width="1.8"/>
<line x1="435.00" y1="592.70" x2="446.40" y2="592.70" stroke="#222" stroke-width="1.8"/>
<line x1="342.90" y1="503.70" x2="342.90" y2="660.30" stroke="#000" stroke-width="1.8"/>
<line x1="337.00" y1="504.60" x2="342.90" y2="504.60" stroke="#000" stroke-width="1.8"/>
<text x="336.20" y="508.00" font-size="13.2" text-anchor="end" fill="#000" font-weight="bold">30</text>
<line x1="337.00" y1="556.20" x2="342.90" y2="556.20" stroke="#000" stroke-width="1.8"/>
<text x="336.20" y="559.60" font-size="13.2" text-anchor="end" fill="#000" font-weight="bold">20</text>
<line x1="337.00" y1="607.80" x2="342.90" y2="607.80" stroke="#000" stroke-width="1.8"/>
<text x="336.20" y="611.20" font-size="13.2" text-anchor="end" fill="#000" font-weight="bold">10</text>
<line x1="337.00" y1="659.40" x2="342.90" y2="659.40" stroke="#000" stroke-width="1.8"/>
<text x="336.20" y="662.80" font-size="13.2" text-anchor="end" fill="#000" font-weight="bold">0</text>
<line x1="337.00" y1="659.40" x2="455.50" y2="659.40" stroke="#000" stroke-width="1.8"/>
<line x1="353.80" y1="515.70" x2="383.00" y2="515.70" stroke="#000" stroke-width="1.8"/>
<text x="359.30" y="516.50" font-size="14" text-anchor="start" fill="#000" font-weight="bold" textLength="17.8" lengthAdjust="spacingAndGlyphs" style="stroke-width:0.25px">***</text>
<line x1="377.70" y1="528.80" x2="444.70" y2="528.80" stroke="#000" stroke-width="1.8"/>
<text x="402.80" y="530.20" font-size="14" text-anchor="start" fill="#000" font-weight="bold" textLength="17.8" lengthAdjust="spacingAndGlyphs" style="stroke-width:0.25px">***</text>
<line x1="417.20" y1="544.70" x2="445.80" y2="544.70" stroke="#000" stroke-width="1.8"/>
<text x="432.00" y="542.60" font-size="13.8" text-anchor="middle" fill="#000" font-weight="bold">n.s.</text>
<text x="369.50" y="675.40" font-size="13.3" text-anchor="middle" fill="#000" font-weight="bold">DMSO</text>
<text x="412" y="675.3" font-size="13.3" font-weight="bold" textLength="37.3" lengthAdjust="spacingAndGlyphs">&#945;-Toc</text>
<text x="321.00" y="616.50" font-size="13.3" text-anchor="start" fill="#000" font-weight="bold" transform="rotate(-90 321.00 616.50)" textLength="78.3" lengthAdjust="spacingAndGlyphs">red colonies</text>
<rect x="452.30" y="553.50" width="16.60" height="8.50" fill="#8a8a8a"/>
<rect x="452.30" y="569.70" width="16.60" height="8.80" fill="#3c3c3c"/>
<text x="471.60" y="563.00" font-size="13.6" font-weight="bold" textLength="35.5" lengthAdjust="spacingAndGlyphs">Gpx4</text>
<text x="507.60" y="559.00" font-size="6.8" font-weight="bold" textLength="12.6" lengthAdjust="spacingAndGlyphs" style="stroke-width:0.3px">F/F</text>
<text x="471.60" y="579.40" font-size="13.6" font-weight="bold" textLength="35.5" lengthAdjust="spacingAndGlyphs">Gpx4</text>
<text x="508.20" y="575.40" font-size="5.2" font-weight="normal" textLength="4.7" lengthAdjust="spacingAndGlyphs" style="stroke-width:0.35px">&#916;</text>
</svg></body></html>
